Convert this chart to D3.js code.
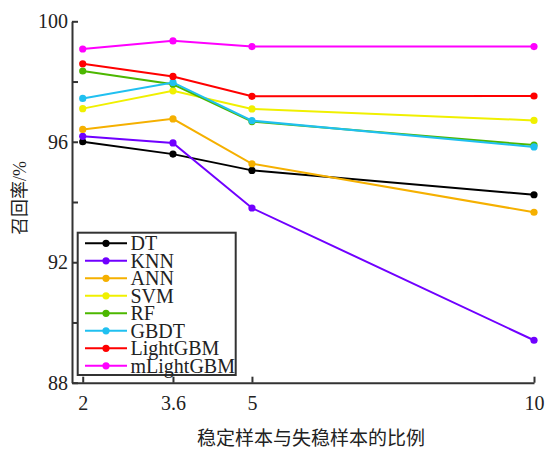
<!DOCTYPE html>
<html>
<head>
<meta charset="utf-8">
<title>召回率 line chart</title>
<script src="https://d3js.org/d3.v7.min.js"></script>
<style>
  body { margin: 0; background: #fff; }
  .tick text { font-family: "Liberation Serif", "Times New Roman", serif; font-size: 20px; fill: #222; }
  .axis path, .axis line { stroke: #333; stroke-width: 2; }
  .legend_text { font-family: "Liberation Serif", "Times New Roman", serif; font-size: 20px; fill: #222; }
  .axis_title { font-family: "Liberation Serif", "Noto Sans CJK SC", serif; fill: #222; }
</style>
</head>
<body>
<div id="chart"></div>
<script>
// ratios on the x axis
const ratios = [2, 3.6, 5, 10];
const yTicks = [88, 90, 92, 94, 96, 98, 100];

// recall (%) per model
const models = ["DT", "KNN", "ANN", "SVM", "RF", "GBDT", "LightGBM", "mLightGBM"];
const dt        = [96.00, 95.59, 95.05, 94.24];
const knn       = [96.18, 95.96, 93.80, 89.41];
const ann       = [96.41, 96.76, 95.27, 93.66];
const svm       = [97.10, 97.69, 97.09, 96.71];
const rf        = [98.35, 97.91, 96.67, 95.89];
const gbdt      = [97.44, 97.97, 96.70, 95.83];
const lightgbm  = [98.59, 98.17, 97.51, 97.52];
const mlightgbm = [99.08, 99.35, 99.16, 99.16];
const colors = ["#000000", "#7000ff", "#f5b000", "#f0f000", "#4cb700", "#20c0f0", "#ff0000", "#ff00ff"];

const series = [dt, knn, ann, svm, rf, gbdt, lightgbm, mlightgbm];

const W = 546, H = 450;
const svg = d3.select("#chart").append("svg")
    .attr("width", W)
    .attr("height", H);

// scales
const x = d3.scaleLinear().domain([1.81, 10]).range([72, 534]);
const y = d3.scaleLinear().domain([88, 100]).range([382.7, 21.3]);

// y axis (ticks point inward)
svg.append("g")
    .attr("class", "axis")
    .attr("transform", "translate(72,0)")
    .call(d3.axisLeft(y).tickValues(yTicks).tickSizeInner(-6).tickSizeOuter(0)
        .tickFormat(d => d % 4 === 0 ? d : ""))
    .selectAll("text")
        .attr("x", -4)
        .attr("dy", "0.33em");

// x axis
svg.append("g")
    .attr("class", "axis")
    .attr("transform", "translate(0,382.7)")
    .call(d3.axisBottom(x).tickValues(ratios).tickSizeInner(-6).tickSizeOuter(0)
        .tickFormat(d => d))
    .selectAll("text")
        .attr("y", 13)
        .attr("dy", "0.71em");

// lines and markers
const line = d3.line()
    .x((d, i) => x(ratios[i]))
    .y(d => y(d));

series.forEach((vals, k) => {
    svg.append("path")
        .datum(vals)
        .attr("fill", "none")
        .attr("stroke", colors[k])
        .attr("stroke-width", 2)
        .attr("d", line);
    svg.selectAll(".pt" + k)
        .data(vals)
        .enter()
        .append("circle")
            .attr("class", "pt" + k)
            .attr("cx", (d, i) => x(ratios[i]))
            .attr("cy", d => y(d))
            .attr("r", 3.6)
            .attr("fill", colors[k]);
});

// legend
const lg = svg.append("g");
lg.append("rect")
    .attr("x", 77.7)
    .attr("y", 232.7)
    .attr("width", 158)
    .attr("height", 142.3)
    .attr("fill", "#fff")
    .attr("stroke", "#333")
    .attr("stroke-width", 2);

models.forEach((name, k) => {
    const ly = 243.3 + k * 17.5;
    lg.append("line")
        .attr("x1", 85).attr("x2", 127)
        .attr("y1", ly).attr("y2", ly)
        .attr("stroke", colors[k])
        .attr("stroke-width", 2);
    lg.append("circle")
        .attr("cx", 106).attr("cy", ly)
        .attr("r", 3.6)
        .attr("fill", colors[k]);
    lg.append("text")
        .attr("class", "legend_text")
        .attr("x", 130.5)
        .attr("y", ly + 6.8)
        .text(name);
});

// axis titles
svg.append("text")
    .attr("class", "axis_title")
    .attr("transform", "translate(26,198) rotate(-90)")
    .attr("text-anchor", "middle")
    .style("font-size", "18px")
    .text("召回率/%");

svg.append("text")
    .attr("class", "axis_title")
    .attr("x", 311)
    .attr("y", 445)
    .attr("text-anchor", "middle")
    .style("font-size", "19px")
    .text("稳定样本与失稳样本的比例");
</script>
</body>
</html>
